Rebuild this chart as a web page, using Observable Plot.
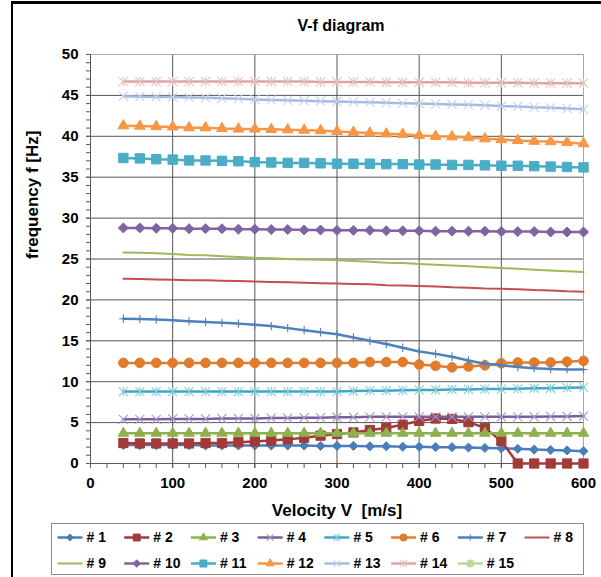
<!DOCTYPE html>
<html><head><meta charset="utf-8">
<script src="https://cdn.jsdelivr.net/npm/d3@7"></script>
<script src="https://cdn.jsdelivr.net/npm/@observablehq/plot@0.6"></script>
<style>
html,body{margin:0;padding:0;background:#fff;}
body{width:601px;height:577px;overflow:hidden;position:relative;font-family:"Liberation Sans",Arial,sans-serif;}
#frame{position:absolute;left:11px;top:1px;width:700px;height:700px;border-left:2px solid #000;border-top:3px solid #000;}
#main{position:absolute;left:0;top:0;}
#legend{position:absolute;left:0;top:515px;}
#title{position:absolute;left:241px;width:200px;top:17px;text-align:center;font-weight:bold;font-size:16px;color:#000;}
</style></head><body>
<div id="frame"></div>
<div id="main"></div>
<div id="legend"></div>
<div id="title"></div>
<script>
// ---------- data ----------
const chartTitle = "V-f diagram";
const xTitle = "Velocity V  [m/s]";
const yTitle = "frequency f [Hz]";
const xTicks = [0, 100, 200, 300, 400, 500, 600];
const yTicks = [0, 5, 10, 15, 20, 25, 30, 35, 40, 45, 50];
const xGridTicks = [100, 200, 300, 400, 500];
const yGridTicks = [5, 10, 15, 20, 25, 30, 35, 40, 45];

const velocity = [40, 60, 80, 100, 120, 140, 160, 180, 200, 220, 240, 260, 280, 300, 320, 340, 360, 380, 400, 420, 440, 460, 480, 500, 520, 540, 560, 580, 600];

const f1  = [2.25, 2.25, 2.25, 2.25, 2.25, 2.2, 2.2, 2.2, 2.2, 2.2, 2.2, 2.2, 2.15, 2.15, 2.15, 2.1, 2.1, 2.05, 2.05, 2.0, 2.0, 1.95, 1.9, 1.85, 1.8, 1.7, 1.65, 1.6, 1.5];
const f2  = [2.5, 2.45, 2.45, 2.45, 2.45, 2.5, 2.5, 2.6, 2.7, 2.8, 2.95, 3.15, 3.4, 3.6, 3.8, 4.1, 4.35, 4.75, 5.2, 5.5, 5.45, 5.05, 4.35, 2.75, 0, 0, 0, 0, 0];
const f3  = [3.7, 3.7, 3.7, 3.7, 3.7, 3.7, 3.7, 3.7, 3.7, 3.7, 3.7, 3.7, 3.7, 3.7, 3.7, 3.7, 3.7, 3.7, 3.7, 3.7, 3.7, 3.7, 3.7, 3.7, 3.7, 3.7, 3.7, 3.7, 3.7];
const f4  = [5.4, 5.4, 5.4, 5.45, 5.45, 5.45, 5.5, 5.5, 5.5, 5.55, 5.55, 5.6, 5.6, 5.65, 5.65, 5.7, 5.7, 5.7, 5.7, 5.7, 5.7, 5.7, 5.7, 5.7, 5.7, 5.7, 5.75, 5.75, 5.8];
const f5  = [8.8, 8.8, 8.8, 8.8, 8.8, 8.8, 8.8, 8.8, 8.8, 8.8, 8.8, 8.8, 8.8, 8.8, 8.85, 8.9, 8.9, 8.95, 9.0, 9.0, 9.05, 9.05, 9.1, 9.1, 9.15, 9.2, 9.2, 9.25, 9.3];
const f6  = [12.3, 12.3, 12.3, 12.3, 12.3, 12.3, 12.3, 12.3, 12.3, 12.3, 12.3, 12.3, 12.3, 12.3, 12.3, 12.4, 12.4, 12.4, 12.1, 11.95, 11.75, 11.85, 12.0, 12.25, 12.35, 12.35, 12.35, 12.45, 12.55];
const f7  = [17.7, 17.65, 17.6, 17.5, 17.4, 17.3, 17.2, 17.1, 16.95, 16.8, 16.55, 16.3, 16.05, 15.8, 15.4, 15.0, 14.6, 14.15, 13.7, 13.4, 13.05, 12.6, 12.2, 12.0, 11.8, 11.65, 11.55, 11.5, 11.5];
const f8  = [22.6, 22.55, 22.5, 22.45, 22.4, 22.4, 22.35, 22.3, 22.25, 22.2, 22.15, 22.1, 22.05, 22.0, 21.95, 21.9, 21.8, 21.75, 21.7, 21.65, 21.55, 21.5, 21.4, 21.35, 21.3, 21.2, 21.15, 21.05, 21.0];
const f9  = [25.8, 25.75, 25.7, 25.6, 25.5, 25.45, 25.35, 25.25, 25.15, 25.1, 25.0, 24.95, 24.9, 24.85, 24.75, 24.65, 24.55, 24.5, 24.4, 24.3, 24.2, 24.1, 24.0, 23.9, 23.8, 23.7, 23.6, 23.5, 23.4];
const f10 = [28.8, 28.8, 28.75, 28.75, 28.7, 28.7, 28.7, 28.65, 28.65, 28.6, 28.6, 28.55, 28.55, 28.5, 28.5, 28.5, 28.45, 28.45, 28.45, 28.4, 28.4, 28.4, 28.4, 28.35, 28.35, 28.35, 28.3, 28.3, 28.3];
const f11 = [37.35, 37.3, 37.2, 37.15, 37.05, 37.05, 37.0, 36.95, 36.85, 36.8, 36.75, 36.75, 36.7, 36.65, 36.65, 36.65, 36.6, 36.6, 36.55, 36.55, 36.5, 36.5, 36.45, 36.4, 36.4, 36.35, 36.3, 36.25, 36.2];
const f12 = [41.3, 41.25, 41.2, 41.15, 41.05, 41.05, 40.95, 40.9, 40.9, 40.85, 40.8, 40.75, 40.7, 40.6, 40.5, 40.4, 40.3, 40.25, 40.1, 40.0, 39.95, 39.85, 39.7, 39.6, 39.5, 39.4, 39.35, 39.25, 39.1];
const f13 = [44.9, 44.85, 44.8, 44.8, 44.75, 44.7, 44.65, 44.6, 44.5, 44.45, 44.4, 44.35, 44.3, 44.25, 44.2, 44.15, 44.1, 44.05, 44.0, 43.95, 43.9, 43.85, 43.8, 43.7, 43.65, 43.55, 43.5, 43.4, 43.3];
const f14 = [46.7, 46.7, 46.7, 46.7, 46.7, 46.7, 46.7, 46.7, 46.7, 46.7, 46.7, 46.7, 46.65, 46.65, 46.65, 46.65, 46.6, 46.6, 46.6, 46.6, 46.6, 46.55, 46.55, 46.55, 46.55, 46.5, 46.5, 46.5, 46.5];
const f15 = [];

const seriesNames = ["# 1", "# 2", "# 3", "# 4", "# 5", "# 6", "# 7", "# 8", "# 9", "# 10", "# 11", "# 12", "# 13", "# 14", "# 15"];
const seriesValues = [f1, f2, f3, f4, f5, f6, f7, f8, f9, f10, f11, f12, f13, f14, f15];

// ---------- styles ----------
const starX = {draw(ctx, size) {
  const r = Math.sqrt(size / Math.PI);
  ctx.moveTo(-r, -r); ctx.lineTo(r, r);
  ctx.moveTo(-r, r); ctx.lineTo(r, -r);
  ctx.moveTo(0, -r); ctx.lineTo(0, r);
}};
const styles = [
  {color: "#4A7EBB", symbol: "diamond2", r: 4.1, filled: true, w: 2.5},
  {color: "#A13B38", symbol: "square", r: 5.2, filled: true, w: 2.5},
  {color: "#8EB04F", symbol: "triangle", r: 3.9, filled: true, w: 2.5},
  {color: "#7B5DA0", mcolor: "#A998C6", symbol: "times", r: 4.2, filled: false, w: 2.5},
  {color: "#3FA7C0", mcolor: "#84CBDC", symbol: starX, r: 4.5, filled: false, w: 2.5},
  {color: "#E07C2E", symbol: "circle", r: 4.8, filled: true, w: 2.5},
  {color: "#4F81BD", symbol: "plus", r: 2.8, filled: false, w: 2.5},
  {color: "#C0504D", symbol: null, w: 2},
  {color: "#9BBB59", symbol: null, w: 2},
  {color: "#8064A2", symbol: "diamond2", r: 4.5, filled: true, w: 2.5},
  {color: "#4BACC6", symbol: "square", r: 5.3, filled: true, w: 2.5},
  {color: "#F79646", symbol: "triangle", r: 4.0, filled: true, w: 2.5},
  {color: "#A7BADF", mcolor: "#C5D2EC", symbol: "times", r: 4.2, filled: false, w: 2.5},
  {color: "#DDA6A5", mcolor: "#EAC0BF", symbol: starX, r: 4.7, filled: false, w: 2.5},
  {color: "#C3D69B", symbol: "circle", r: 4.8, filled: true, w: 2.5}
];

const FONT = "'Liberation Sans', Arial, sans-serif";
const axisColor = "#5a5a5a";
const gridColor = "#555555";

const seriesData = seriesValues.map(vals => vals.map((f, j) => ({V: velocity[j], f})));

function dotOpts(s, scale, extra) {
  const mc = s.mcolor || s.color;
  return Object.assign({
    symbol: s.symbol, r: s.r * scale,
    fill: s.filled ? mc : "none",
    stroke: mc, strokeWidth: s.filled ? 1 : 1.1
  }, extra);
}

const seriesMarks = seriesData.flatMap((data, i) => {
  const s = styles[i];
  const m = [Plot.line(data, {x: "V", y: "f", stroke: s.color, strokeWidth: s.w})];
  if (s.symbol) m.push(Plot.dot(data, dotOpts(s, 1, {x: "V", y: "f"})));
  return m;
});

const xMinor = d3.range(0, 601, 20);
const yMinor = d3.range(0, 51, 1);

const main = Plot.plot({
  width: 601, height: 520,
  marginLeft: 90, marginRight: 18, marginTop: 54, marginBottom: 57,
  x: {domain: [0, 600]},
  y: {domain: [0, 50]},
  style: {background: "transparent", fontFamily: FONT, color: "#000"},
  marks: [
    Plot.gridY(yGridTicks, {stroke: gridColor, strokeOpacity: 1}),
    Plot.gridX(xGridTicks, {stroke: gridColor, strokeOpacity: 1}),
    Plot.ruleY([50], {stroke: "#a8a8a8"}),
    Plot.ruleX([600], {stroke: "#a8a8a8"}),
    Plot.axisY(yMinor, {tickSize: 4, tickFormat: () => "", label: null, stroke: axisColor}),
    Plot.axisY(yTicks, {tickSize: 4, tickPadding: 8, fontSize: 15, fontWeight: "bold", label: null, stroke: axisColor}),
    Plot.axisX(xMinor, {tickSize: 5, tickFormat: () => "", label: null, stroke: axisColor}),
    Plot.axisX(xTicks, {tickSize: 5, tickPadding: 9, fontSize: 15, fontWeight: "bold", label: null, stroke: axisColor}),
    Plot.ruleX([0], {stroke: axisColor}),
    Plot.ruleY([0], {stroke: axisColor}),
    ...seriesMarks,
    Plot.text([xTitle], {frameAnchor: "bottom", dy: 47, fontSize: 17, fontWeight: "bold", lineAnchor: "middle", fill: "#000"}),
    Plot.text([yTitle], {frameAnchor: "left", dx: -58, rotate: -90, fontSize: 17, fontWeight: "bold", lineAnchor: "middle", fill: "#000"})
  ]
});
document.getElementById("main").appendChild(main);

// ---------- legend ----------
const sampleLen = 0.375;
const legendEntries = seriesNames.map((name, i) => ({name, i, col: i % 8, row: Math.floor(i / 8)}));
const legendMarks = legendEntries.flatMap(e => {
  const s = styles[e.i];
  const m = [Plot.link([e], {x1: "col", x2: d => d.col + sampleLen, y1: "row", y2: "row", stroke: s.color, strokeWidth: s.w})];
  if (s.symbol) m.push(Plot.dot([e], dotOpts(s, 0.75, {x: d => d.col + sampleLen / 2, y: "row"})));
  return m;
});
const legend = Plot.plot({
  width: 601, height: 62,
  marginLeft: 51, marginRight: 18, marginTop: 8, marginBottom: 3,
  x: {domain: [0, 7], range: [57, 524], axis: null},
  y: {domain: [0, 1], range: [22, 48], axis: null},
  style: {background: "transparent", fontFamily: FONT, color: "#000"},
  marks: [
    Plot.frame({stroke: "#8a8a8a"}),
    ...legendMarks,
    Plot.text(legendEntries, {x: d => d.col + sampleLen, y: "row", text: "name", dx: 4, textAnchor: "start", lineAnchor: "middle", fontSize: 14, fontWeight: "bold", fill: "#000"})
  ]
});
document.getElementById("legend").appendChild(legend);
document.getElementById("title").textContent = chartTitle;
</script>
</body></html>
